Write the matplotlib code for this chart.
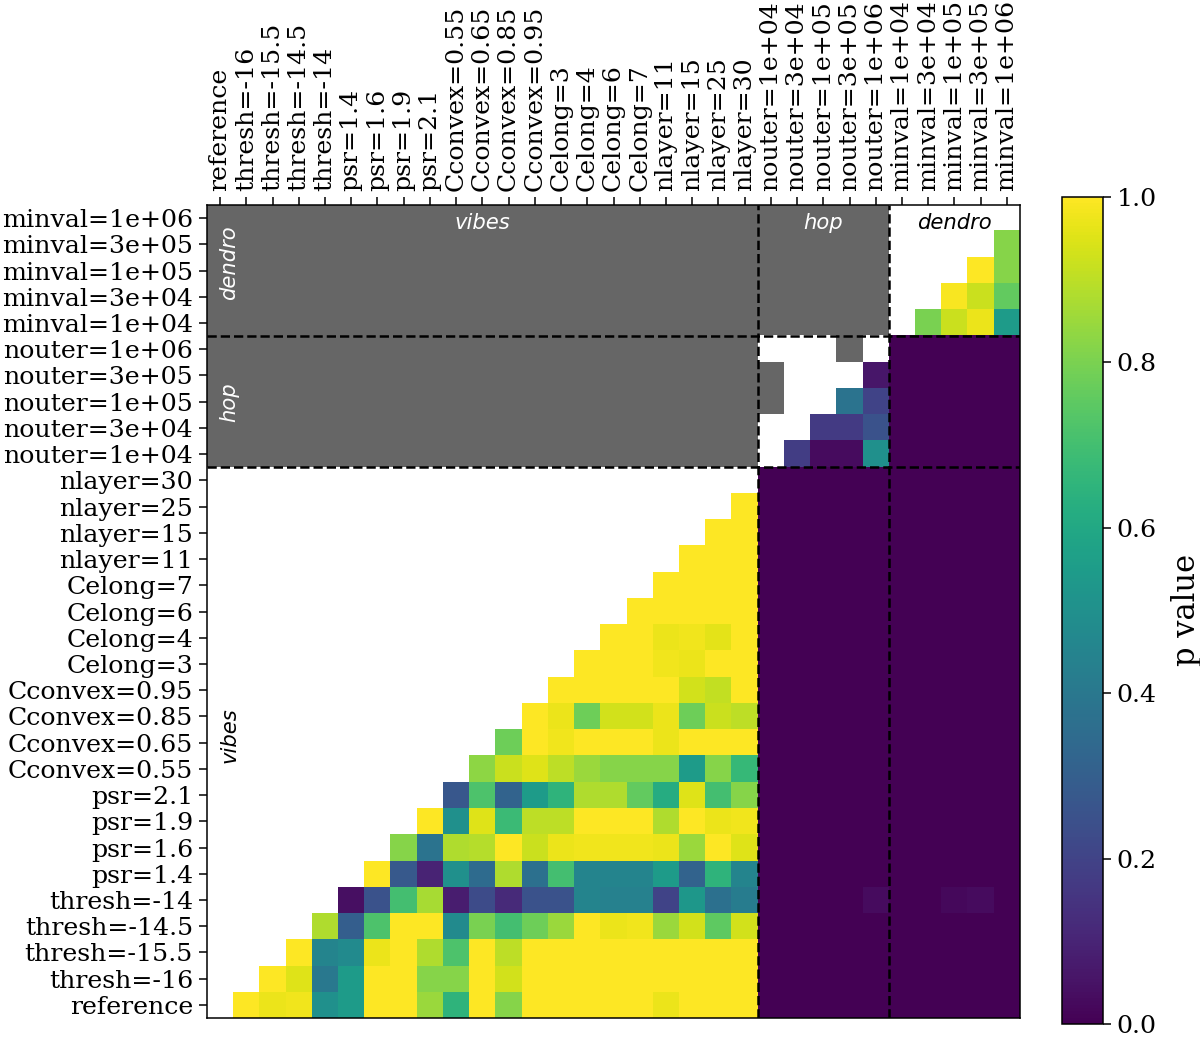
import numpy as np
import matplotlib.pyplot as plt
from matplotlib.colors import ListedColormap

plt.rcParams['font.family'] = 'serif'

# --- labels (bottom/left -> top/right) ---
vibes_labels = ["reference", "thresh=-16", "thresh=-15.5", "thresh=-14.5", "thresh=-14",
                "psr=1.4", "psr=1.6", "psr=1.9", "psr=2.1",
                "Cconvex=0.55", "Cconvex=0.65", "Cconvex=0.85", "Cconvex=0.95",
                "Celong=3", "Celong=4", "Celong=6", "Celong=7",
                "nlayer=11", "nlayer=15", "nlayer=25", "nlayer=30"]
hop_labels = ["nouter=1e+04", "nouter=3e+04", "nouter=1e+05", "nouter=3e+05", "nouter=1e+06"]
dendro_labels = ["minval=1e+04", "minval=3e+04", "minval=1e+05", "minval=3e+05", "minval=1e+06"]

# --- p values, each row holds the cells right of the diagonal inside its block ---
vibes_p = [
    [1.0, 0.97, 0.98, 0.5, 0.55, 1.0, 1.0, 0.85, 0.65, 1.0, 0.82, 1.0, 1.0, 1.0, 1.0, 1.0, 0.97, 1.0, 1.0, 1.0],
    [1.0, 0.95, 0.4, 0.55, 1.0, 1.0, 0.82, 0.82, 1.0, 0.93, 1.0, 1.0, 1.0, 1.0, 1.0, 1.0, 1.0, 1.0, 1.0],
    [1.0, 0.45, 0.48, 0.97, 1.0, 0.88, 0.72, 1.0, 0.9, 1.0, 1.0, 1.0, 1.0, 1.0, 1.0, 1.0, 1.0, 1.0],
    [0.88, 0.3, 0.72, 1.0, 1.0, 0.48, 0.8, 0.7, 0.78, 0.85, 1.0, 0.97, 0.98, 0.85, 0.93, 0.75, 0.93],
    [0.04, 0.25, 0.7, 0.87, 0.08, 0.23, 0.12, 0.25, 0.25, 0.45, 0.44, 0.44, 0.2, 0.53, 0.37, 0.42],
    [1.0, 0.28, 0.1, 0.5, 0.35, 0.88, 0.37, 0.7, 0.45, 0.45, 0.45, 0.55, 0.32, 0.65, 0.45],
    [0.82, 0.38, 0.88, 0.89, 1.0, 0.92, 0.97, 0.98, 0.98, 0.98, 0.97, 0.85, 1.0, 0.95],
    [1.0, 0.5, 0.95, 0.68, 0.9, 0.9, 1.0, 1.0, 1.0, 0.88, 1.0, 0.97, 0.98],
    [0.27, 0.72, 0.32, 0.55, 0.65, 0.88, 0.88, 0.76, 0.62, 0.95, 0.7, 0.82],
    [0.83, 0.92, 0.95, 0.9, 0.85, 0.82, 0.82, 0.82, 0.55, 0.82, 0.67],
    [0.78, 1.0, 0.98, 1.0, 1.0, 1.0, 0.97, 1.0, 1.0, 1.0],
    [1.0, 0.97, 0.78, 0.93, 0.93, 0.97, 0.78, 0.92, 0.9],
    [1.0, 1.0, 1.0, 1.0, 1.0, 0.93, 0.91, 1.0],
    [1.0, 1.0, 1.0, 0.98, 0.97, 1.0, 1.0],
    [1.0, 1.0, 0.97, 0.98, 0.96, 1.0],
    [1.0, 1.0, 1.0, 1.0, 1.0],
    [1.0, 1.0, 1.0, 1.0],
    [1.0, 1.0, 1.0],
    [1.0, 1.0],
    [1.0],
    [],
]
hop_p = [
    [0.18, 0.03, 0.03, 0.5],
    [0.17, 0.17, 0.25],
    [0.38, 0.2],
    [0.06],
    [],
]
dendro_p = [
    [0.8, 0.92, 0.97, 0.55],
    [0.99, 0.92, 0.76],
    [1.0, 0.82],
    [0.82],
    [],
]
# vibes rows vs hop+dendro columns are ~0, except the thresh=-14 row
thresh14_vs_others = [0.0, 0.0, 0.0, 0.0, 0.03, 0.0, 0.0, 0.02, 0.03, 0.0]
hop_gray_cells = [(23, 21), (24, 21), (25, 24)]

labels = vibes_labels + hop_labels + dendro_labels
n = len(labels)
nv, nh = len(vibes_labels), len(hop_labels)

P = np.full((n, n), np.nan)
for r, row in enumerate(vibes_p):
    P[r, r + 1:r + 1 + len(row)] = row
for i, row in enumerate(hop_p):
    r = nv + i
    P[r, r + 1:r + 1 + len(row)] = row
for i, row in enumerate(dendro_p):
    r = nv + nh + i
    P[r, r + 1:r + 1 + len(row)] = row
P[0:nv, nv:] = 0.0
P[4, nv:] = thresh14_vs_others
P[nv:nv + nh, nv + nh:] = 0.0

gray = np.zeros((n, n), bool)
gray[nv:, :nv] = True
gray[nv + nh:, nv:nv + nh] = True
for r, c in hop_gray_cells:
    gray[r, c] = True

fig = plt.figure(figsize=(12, 10.37), dpi=100)
ax = fig.add_axes([0.1725, 0.0183, 0.6775, 0.784])

ax.imshow(np.where(gray, 1.0, np.nan), cmap=ListedColormap(['#666666']),
          origin='lower', aspect='auto', interpolation='nearest')
im = ax.imshow(np.ma.masked_invalid(P), cmap='viridis', vmin=0, vmax=1,
               origin='lower', aspect='auto', interpolation='nearest')

for b in [nv - 0.5, nv + nh - 0.5]:
    ax.axhline(b, color='k', ls='--', lw=1.8)
    ax.axvline(b, color='k', ls='--', lw=1.8)

ax.set_xticks(range(n))
ax.set_xticklabels(labels, rotation=90, fontsize=18.2)
ax.xaxis.tick_top()
ax.set_yticks(range(n))
ax.set_yticklabels(labels, fontsize=18.2)
ax.tick_params(length=5.5, width=1.1, pad=4.5)
ax.set_xlim(-0.5, n - 0.5)
ax.set_ylim(-0.5, n - 0.5)
for s in ax.spines.values():
    s.set_linewidth(1.1)

# block names
tk = dict(family='DejaVu Sans', style='italic', fontsize=15.2, ha='center', va='center')
ax.text((nv - 1) / 2, n - 1.2, 'vibes', color='white', **tk)
ax.text(nv + (nh - 1) / 2, n - 1.2, 'hop', color='white', **tk)
ax.text(nv + nh + 2, n - 1.2, 'dendro', color='black', **tk)
ax.text(0.35, nv + nh + 2.3, 'dendro', color='white', rotation=90, **tk)
ax.text(0.35, nv + (nh - 1) / 2, 'hop', color='white', rotation=90, **tk)
ax.text(0.35, (nv - 1) / 2 + 0.3, 'vibes', color='black', rotation=90, **tk)

cax = fig.add_axes([0.885, 0.0125, 0.034, 0.798])
cb = fig.colorbar(im, cax=cax)
cb.ax.tick_params(labelsize=18.2, length=5.5, width=1.1, pad=4.5)
cb.outline.set_linewidth(1.1)
cb.set_label('p value', fontsize=22, labelpad=10)

fig.savefig('out.png', dpi=100)
